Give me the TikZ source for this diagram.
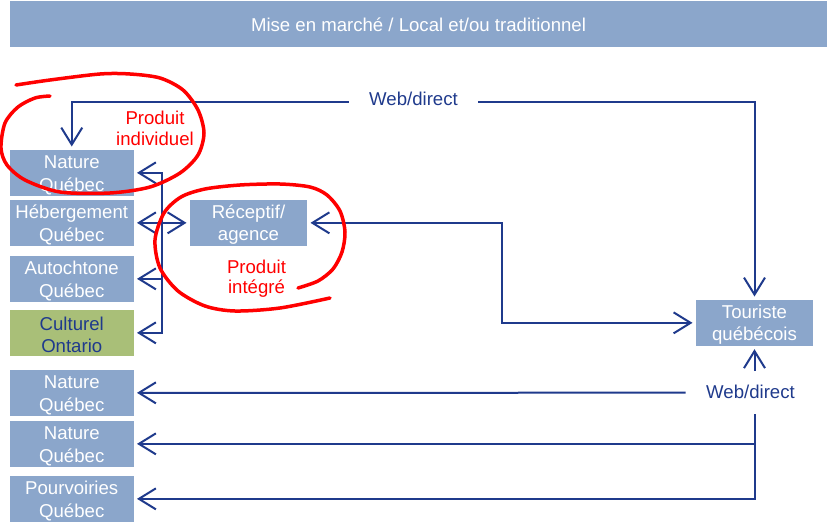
\documentclass[tikz,border=0pt]{standalone}
\usepackage{fontspec}
\setmainfont{Liberation Sans}
\usetikzlibrary{arrows.meta}
\definecolor{boxblue}{HTML}{8BA6CB}
\definecolor{boxgreen}{HTML}{A9BF78}
\definecolor{navy}{HTML}{1F3A8C}
\definecolor{markred}{HTML}{FF0000}
% invisible strut that lowers the two-line box labels a little
\newcommand{\boxstrut}{\rule{0pt}{17.5pt}}

\begin{document}
\begin{tikzpicture}[x=1pt,y=-1pt,
  every node/.style={font=\fontsize{18.6}{22.6}\selectfont},
  box/.style={fill=boxblue,text=white,minimum width=123.5pt,minimum height=45.7pt,
    inner sep=0pt,align=center,outer sep=3.5pt},
  greenbox/.style={box,fill=boxgreen,text=navy},
  titlebar/.style={fill=boxblue,text=white,minimum width=817pt,minimum height=45.7pt,inner sep=0pt},
  weblabel/.style={text=navy,inner xsep=20.5pt,inner ysep=0pt,text height=13.5pt},
  redtext/.style={text=markred,align=center,inner sep=0pt},
  conn/.style={draw=navy,line width=2pt,>={Straight Barb[length=17pt,width=21pt]}},
  redmark/.style={draw=markred,line width=3.5pt,line cap=round,line join=round}
]
\useasboundingbox (0,0) rectangle (827,527);

% header
\node[titlebar] (title) at (418.5,24.3) {Mise en marché / Local et/ou traditionnel};

% supplier boxes, left column
\node[box] (box1) at (71.75,172.85) {\boxstrut Nature\\Québec};
\node[box] (box2) at (71.75,222.85) {\boxstrut Hébergement\\Québec};
\node[box] (box3) at (71.75,278.85) {\boxstrut Autochtone\\Québec};
\node[greenbox] (box4) at (71.75,332.85) {\boxstrut Culturel\\Ontario};
\node[box] (box5) at (71.75,392.85) {\boxstrut Nature\\Québec};
\node[box] (box6) at (71.75,443.85) {\boxstrut Nature\\Québec};
\node[box] (box7) at (71.75,498.85) {\boxstrut Pourvoiries\\Québec};

% agency and tourist
\node[box,minimum width=117pt] (rec) at (248.5,222.85) {\boxstrut Réceptif/\\agence};
\node[box,minimum width=117pt] (tq) at (754.5,322.85) {\boxstrut Touriste\\québécois};

% channel labels
\node[weblabel,text depth=8.1pt] (web1) at (413.5,102.3) {Web/direct};
\node[weblabel,text depth=2.3pt,minimum height=43pt] (web2) at (750.5,392.7) {Web/direct};

\coordinate (bus) at (162,0);
\coordinate (turn) at (502,0);

% direct web channel, top
\draw[conn,->] (web1.west) -| (box1.north);
\draw[conn,->] (web1.east) -| (tq.north);

% bundling bus between suppliers and the agency
\draw[conn,<->] (box1.east) -- (box1.east -| bus) -- (box4.east -| bus) -- (box4.east);
\draw[conn,->] (box3.east -| bus) -- (box3.east);
\draw[conn,<->] (box2.east) -- (rec.west);

% agency to tourist
\draw[conn,<->] (rec.east) -- (rec.east -| turn) |- (tq.west);

% direct web channel, bottom
\draw[conn,->] (tq.south |- web2.north) -- (tq.south);
\draw[conn,->] (web2.west) -- (box5.east);
\draw[conn,->] (tq.south |- web2.south) |- (box7.east);
\draw[conn,->] (tq.south |- box6.east) -- (box6.east);

% hand-drawn annotations
\node[redtext,font=\fontsize{18.6}{21}\selectfont] (pi) at (155,128.3) {Produit\\individuel};
\node[redtext,font=\fontsize{18.6}{20.3}\selectfont] (pint) at (256.5,279) {Produit\\intégré};

\draw[redmark] plot[smooth] coordinates {
  (50,96) (35,98) (18,107) (5,123) (1,148) (7,165) (25,180) (60,192) (110,193)
  (150,187) (180,173) (198,155) (204,133) (198,110) (183,90) (160,78) (130,74)
  (100,74) (50,80) (16,85)};

\draw[redmark] plot[smooth] coordinates {
  (298,288) (318,281) (333,269) (342,252) (345,232) (340,211) (327,195) (310,187)
  (280,184) (240,185) (205,189) (181,197) (164,213) (155,240) (160,268) (178,291)
  (205,306) (235,311) (280,308) (330,298)};
\end{tikzpicture}
\end{document}
